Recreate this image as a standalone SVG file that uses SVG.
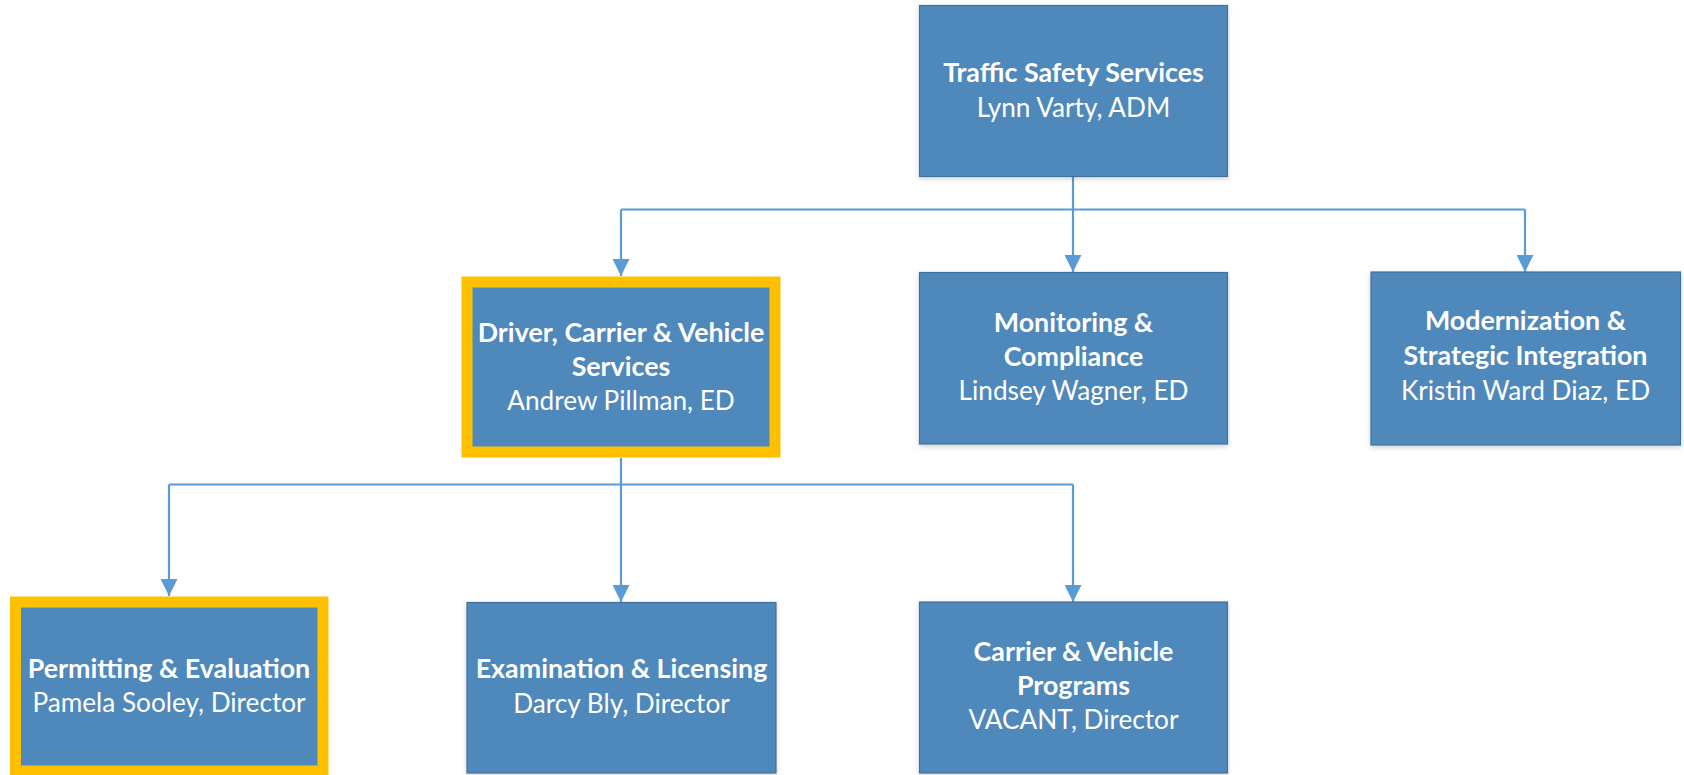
<svg xmlns="http://www.w3.org/2000/svg" width="1684" height="775" viewBox="0 0 1684 775">
<defs>
<style>
.box{fill:#4F88BB;stroke:#41719C;stroke-width:1.2}
.hl{fill:none;stroke:#FFC000;stroke-width:11}
.t{font-family:Lato,"Liberation Sans",sans-serif;fill:#FFFFFF;text-anchor:middle}
.b{font-weight:bold;font-size:26.8px}
.n{font-weight:normal;font-size:26.2px}
.conn{fill:none;stroke:#5B9BD5;stroke-width:2.2}
</style>
<marker id="arr" markerUnits="userSpaceOnUse" markerWidth="18" markerHeight="17" refX="17" refY="8.5" orient="auto">
<path d="M0,0 L17,8.5 L0,17 Z" fill="#5B9BD5"/>
</marker>
<filter id="sh" x="-10%" y="-10%" width="120%" height="125%">
<feDropShadow dx="0" dy="2" stdDeviation="2.5" flood-color="#000000" flood-opacity="0.18"/>
</filter>
</defs>
<rect width="1684" height="775" fill="#FFFFFF"/>
<g id="connectors">
<path class="conn" d="M1073,177 V209.5 M621,209.5 H1525"/>
<path class="conn" d="M621,209.5 V276" marker-end="url(#arr)"/>
<path class="conn" d="M1073,209.5 V272" marker-end="url(#arr)"/>
<path class="conn" d="M1525,209.5 V272" marker-end="url(#arr)"/>
<path class="conn" d="M621,458 V484.5 M169,484.5 H1073"/>
<path class="conn" d="M169,484.5 V596" marker-end="url(#arr)"/>
<path class="conn" d="M621,484.5 V602" marker-end="url(#arr)"/>
<path class="conn" d="M1073,484.5 V602" marker-end="url(#arr)"/>
</g>
<g id="node-tss">
<rect class="box" x="919.5" y="5.5" width="308" height="171" filter="url(#sh)"/>
<text class="t b" x="1073.5" y="82">Traffic Safety Services</text>
<text class="t n" x="1073.5" y="117">Lynn Varty, ADM</text>
</g>
<g id="node-dcvs">
<rect class="box" x="467" y="282" width="308" height="170" filter="url(#sh)"/>
<rect class="hl" x="467" y="282" width="308" height="170"/>
<text class="t b" x="621" y="342">Driver, Carrier &amp; Vehicle</text>
<text class="t b" x="621" y="376">Services</text>
<text class="t n" x="621" y="410">Andrew Pillman, ED</text>
</g>
<g id="node-mc">
<rect class="box" x="919.5" y="272.5" width="308" height="171.5" filter="url(#sh)"/>
<text class="t b" x="1073.5" y="332">Monitoring &amp;</text>
<text class="t b" x="1073.5" y="366">Compliance</text>
<text class="t n" x="1073.5" y="400">Lindsey Wagner, ED</text>
</g>
<g id="node-msi">
<rect class="box" x="1371" y="272" width="309.5" height="173" filter="url(#sh)"/>
<text class="t b" x="1525.5" y="330">Modernization &amp;</text>
<text class="t b" x="1525.5" y="365">Strategic Integration</text>
<text class="t n" x="1525.5" y="400">Kristin Ward Diaz, ED</text>
</g>
<g id="node-pe">
<rect class="box" x="15.5" y="602" width="307.5" height="169" filter="url(#sh)"/>
<rect class="hl" x="15.5" y="602" width="307.5" height="169"/>
<text class="t b" x="169" y="678">Permitting &amp; Evaluation</text>
<text class="t n" x="169" y="712">Pamela Sooley, Director</text>
</g>
<g id="node-el">
<rect class="box" x="467" y="602.5" width="309" height="170.5" filter="url(#sh)"/>
<text class="t b" x="621.5" y="678">Examination &amp; Licensing</text>
<text class="t n" x="621.5" y="712.5">Darcy Bly, Director</text>
</g>
<g id="node-cvp">
<rect class="box" x="919.5" y="602" width="308" height="171" filter="url(#sh)"/>
<text class="t b" x="1073.5" y="661">Carrier &amp; Vehicle</text>
<text class="t b" x="1073.5" y="695">Programs</text>
<text class="t n" x="1073.5" y="729">VACANT, Director</text>
</g>
</svg>
